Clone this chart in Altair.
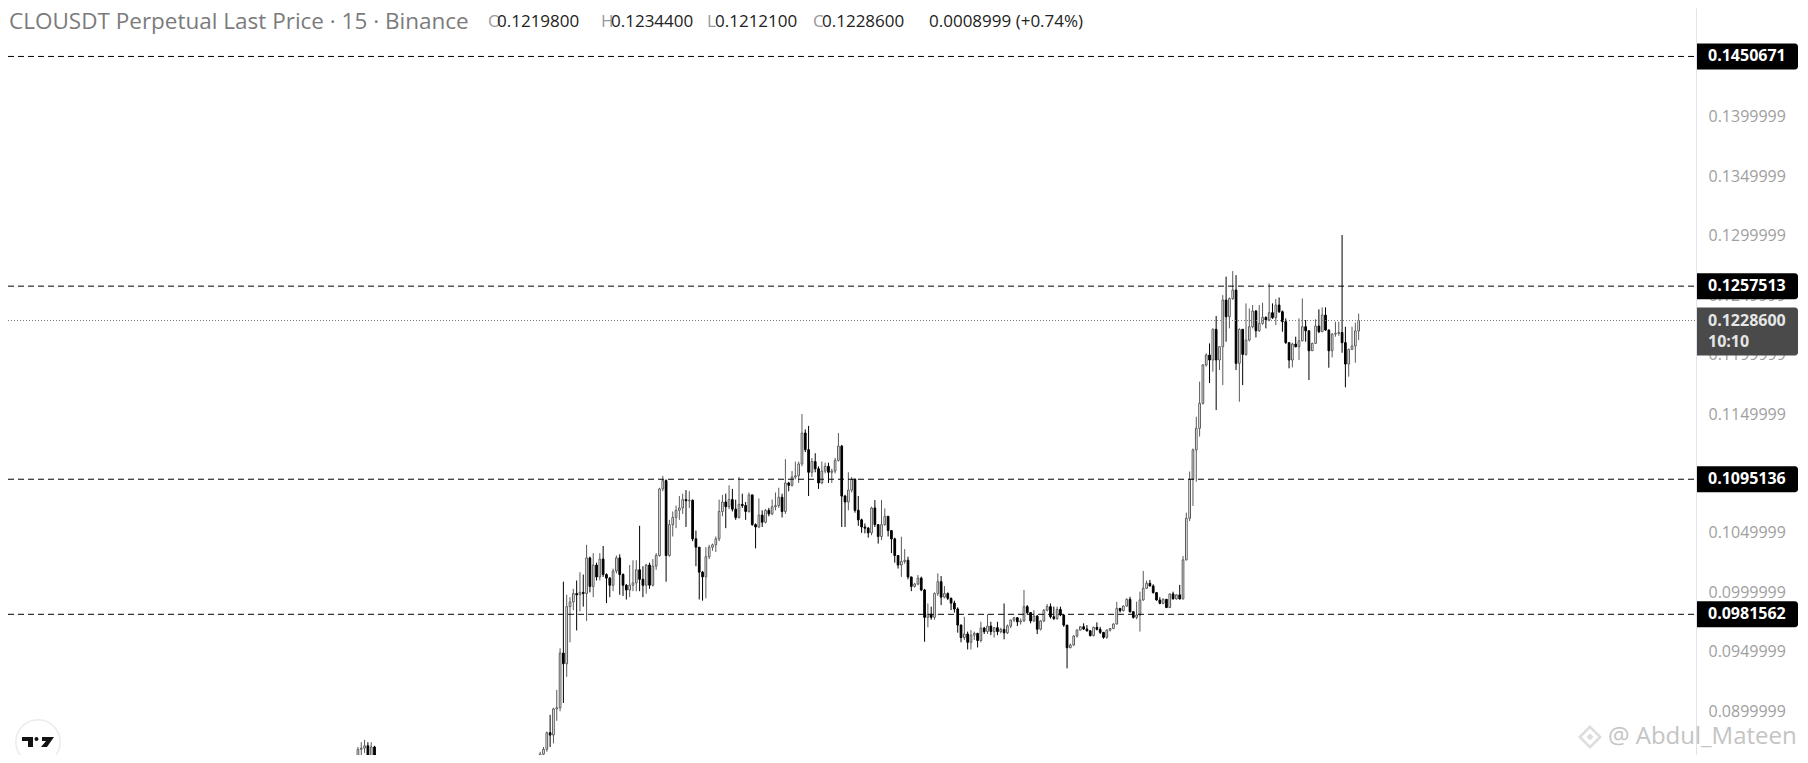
import altair as alt
import pandas as pd

# ---------------- data (prices in units of 0.0001 USDT) ----------------
# segment 1: first candles at the left edge (mostly below the visible range)
seg1_start = 0
seg1_open = 850
seg1_close = [868, 869, 871, 860, 870, 858, 856, 855, 852, 850, 853, 856]
seg1_high = [870, 874, 876, 874, 874, 871, 859, 860, 856, 855, 861, 859.5]
seg1_low = [845, 862, 865, 856, 857, 852, 850, 848, 846, 844, 846, 849]

# segment 2: from the rally out of the bottom to the last candle
seg2_start = 55
seg2_open = 850
seg2_close = [
    864, 868, 882, 880, 902, 903, 949, 940, 988, 992,
    999, 998, 1000, 999, 1029, 1005, 1023, 1013, 1028, 1015,
    1012, 1006, 1018, 1029, 1015, 1006, 1002, 1006, 1008, 1019,
    1011, 1006, 1023, 1006, 1022, 1031, 1087, 1094, 1031, 1057,
    1063, 1069, 1071, 1078, 1077, 1077.5, 1045, 1038, 1017, 1013,
    1030, 1038, 1040, 1045, 1068, 1076, 1072, 1078, 1070, 1063,
    1074, 1073, 1068, 1082, 1057, 1055, 1065, 1059, 1069, 1066,
    1072, 1073, 1080, 1068, 1092, 1090, 1097, 1098, 1108, 1134,
    1120, 1101, 1110, 1104, 1092, 1102, 1106, 1101, 1102, 1111,
    1123, 1081, 1076, 1086, 1095, 1069, 1061, 1055, 1054, 1050,
    1071, 1057, 1047, 1057, 1064, 1052, 1045, 1031, 1023, 1026,
    1027, 1013, 1005, 1007, 1012, 1002, 979, 981.5, 979, 999,
    1009, 996, 999, 995, 991, 986, 972.5, 962, 965, 958,
    964, 965.5, 959.5, 970, 967, 971.7, 967, 970.3, 967, 968.8,
    966, 971.7, 976.7, 978.7, 975.3, 976, 988, 983, 976, 980,
    969, 976, 985, 988, 979.5, 978, 985.7, 981, 972.5, 953.5,
    955.7, 963.3, 968.3, 971.1, 969.2, 967.7, 963.6, 970.6, 968.9, 966.4,
    962.2, 968.3, 969.7, 973.4, 986.5, 984.6, 988.5, 994.1, 983.7, 979,
    981, 993.6, 1003.4, 1007.7, 1005.4, 999.8, 993.6, 990.8, 994.2, 987.2,
    998.7, 994.5, 997.9, 994.5, 1027.3, 1062.3, 1095.1, 1119.8, 1138, 1159,
    1191.2, 1199.6, 1195.4, 1221.2, 1195.4, 1206.6, 1245.8, 1231.8, 1247, 1254.2,
    1192.6, 1221.2, 1200.1, 1212.2, 1223.4, 1236.6, 1220, 1226.2, 1231.3, 1229,
    1235.2, 1231, 1241.6, 1236, 1227.6, 1210, 1195.4, 1208.8, 1206.6, 1211.6,
    1223.4, 1220, 1203.2, 1209.4, 1224, 1219.2, 1233.2, 1220.6, 1203.2, 1217.2,
    1217.8, 1218.6, 1210, 1192, 1204.3, 1207.2, 1219.8, 1228.6,
]
seg2_high = [
    866, 870, 883, 897, 903, 918, 953, 1009, 998, 996,
    1003, 1010, 1017, 1015, 1040, 1030, 1033, 1025, 1033, 1039,
    1016, 1013, 1020, 1031, 1032, 1016, 1007, 1023, 1027, 1027,
    1056, 1022, 1024, 1025, 1028, 1033, 1088, 1098, 1095, 1061,
    1068, 1073, 1081, 1083, 1086, 1085, 1078, 1052, 1038, 1018,
    1038, 1040, 1041, 1047, 1078, 1082, 1083, 1090, 1087, 1078,
    1097, 1083, 1076, 1084, 1082, 1058, 1079, 1069, 1070, 1071,
    1078, 1084, 1088, 1083, 1112, 1093, 1102, 1110, 1110, 1150,
    1137, 1140, 1113, 1117, 1106, 1110, 1109, 1109, 1104, 1113,
    1134, 1124, 1082, 1101, 1097, 1096, 1081, 1062, 1058, 1055,
    1072, 1077.6, 1057, 1077.6, 1070.6, 1064, 1052, 1046, 1031, 1046.8,
    1036.4, 1030, 1013, 1008, 1014.6, 1013.2, 1003, 990.7, 988, 1000,
    1016, 1013.7, 1005.3, 1000, 995.7, 993, 987.4, 973, 979.5, 967,
    968.3, 967, 966, 975.3, 971, 981.5, 975.3, 971, 975.3, 970.3,
    990.7, 973, 977, 979, 979, 978, 1002, 989.3, 983, 985,
    981, 976.7, 986, 990.2, 990.7, 988, 988, 988, 981, 972.5,
    957, 964, 969, 971.7, 974, 972.5, 968, 971.2, 974.8, 971,
    966.4, 969, 970, 974, 992, 987, 989, 995, 996.3, 984,
    992.2, 1000.6, 1018, 1009.9, 1010.5, 1006.8, 1000, 996, 995, 994.2,
    999, 1000.6, 998.5, 1006.3, 1030.6, 1067, 1101.6, 1121, 1147.7, 1177.2,
    1192, 1201, 1209.4, 1222, 1232.4, 1207, 1250, 1265.5, 1248, 1270.2,
    1266.8, 1222, 1221.5, 1243, 1238.8, 1241.6, 1237.4, 1241.6, 1243.6, 1232,
    1259.8, 1243, 1246.7, 1248, 1237, 1230.4, 1210, 1210, 1215, 1230.4,
    1247.2, 1229, 1220, 1210, 1229.6, 1238, 1239.7, 1239.7, 1221, 1218,
    1227.6, 1227.6, 1300.5, 1223.4, 1205, 1223.4, 1226.8, 1234.4,
]
seg2_low = [
    845, 861, 866, 870, 873, 892, 900, 907, 929, 958,
    985, 968, 984, 988, 976, 1000, 996, 1010, 1010, 1013,
    991, 996, 1001, 1016, 998, 997, 994, 996, 1001, 1001,
    1001, 996, 999, 1003, 1005, 1019, 1030, 1085, 1009, 1030,
    1047, 1054, 1061, 1066, 1055, 1071, 1043, 1022, 994, 993,
    995, 1028, 1035, 1034, 1043, 1064, 1054, 1070, 1068, 1061,
    1062, 1071, 1061, 1067, 1056, 1037, 1054, 1055, 1058, 1064,
    1065, 1069, 1071, 1063, 1066, 1085, 1089, 1095, 1092, 1106,
    1118, 1081, 1097, 1101, 1087, 1091, 1100, 1092, 1092, 1100,
    1110, 1055, 1055, 1069, 1084, 1067, 1056, 1050, 1049.6, 1046,
    1048, 1055, 1041, 1044, 1056, 1047, 1033, 1025, 1020, 1013,
    1024, 1011, 1001, 1004, 1006, 1001, 958.5, 970.6, 977, 977,
    997, 989.3, 995, 993.5, 985.1, 983, 966.1, 958, 960, 952,
    952, 960, 953.7, 958, 965, 965, 964, 962, 964, 965.5,
    960.5, 965, 970, 975, 971.7, 973, 975, 981, 974, 975,
    965, 968, 975, 984, 978, 976.7, 977, 980, 971, 936.1,
    953, 955, 962, 968, 968.3, 967, 963, 963, 968, 965,
    961, 961, 967, 969, 973, 983, 984, 988, 983, 978,
    977.4, 967, 993, 1003, 1005, 999, 993, 990, 990, 987,
    987, 994, 994, 994, 994, 1027, 1060, 1072.7, 1093, 1131,
    1158, 1189.8, 1176, 1185.6, 1153.3, 1187, 1174.3, 1210.8, 1222, 1246,
    1187, 1160.3, 1174.3, 1199, 1211, 1222, 1214.4, 1219, 1225, 1222,
    1228, 1230, 1224.8, 1235, 1219.2, 1209, 1188.4, 1189.2, 1206, 1195.4,
    1211, 1210.8, 1178.6, 1203, 1209, 1218, 1219, 1220, 1188.9, 1197.6,
    1215, 1215.8, 1201.5, 1172.4, 1181.4, 1204, 1193.1, 1212.1,
]

levels = [0.1450671, 0.1257513, 0.1095136, 0.0981562]
last_price = 0.12286
countdown = "10:10"
change_text = "0.0008999 (+0.74%)"
title_text = "CLOUSDT Perpetual Last Price \u00b7 15 \u00b7 Binance"
tick_values = [0.0899999, 0.0949999, 0.0999999, 0.1049999, 0.1099999, 0.1149999,
               0.1199999, 0.1249999, 0.1299999, 0.1349999, 0.1399999, 0.1449999]
watermark = "@ Abdul_Mateen"


def build(start, first_open, closes, highs, lows):
    rows = []
    prev = first_open
    for k, (c, h, l) in enumerate(zip(closes, highs, lows)):
        o = prev
        rows.append(dict(idx=start + k, open=o / 1e4, close=c / 1e4,
                         high=h / 1e4, low=l / 1e4,
                         dir="up" if c >= o else "down"))
        prev = c
    return rows


candles = pd.DataFrame(build(seg1_start, seg1_open, seg1_close, seg1_high, seg1_low)
                       + build(seg2_start, seg2_open, seg2_close, seg2_high, seg2_low))
last = candles.iloc[-1]

# ---------------- layout ----------------
W, H = 1688, 747
FONT = "Open Sans"
xs = alt.Scale(domain=[-104.1, 402.3], nice=False, zero=False)
ys = alt.Scale(domain=[0.086325, 0.149141], nice=False, zero=False)
yaxis = alt.Axis(orient="right", values=tick_values, format=".7f", ticks=False,
                 grid=False, domainColor="#e0e3eb", labelColor="#a0a0a0",
                 labelFontSize=16, labelFont=FONT, labelPadding=12,
                 labelAlign="left", labelBaseline="middle", title=None,
                 labelOverlap=False, labelBound=False, labelFlush=False, zindex=0)

cmap_stroke = alt.Scale(domain=["up", "down"], range=["#5a5a5a", "#000000"])
cmap_fill = alt.Scale(domain=["up", "down"], range=["#ffffff", "#000000"])

base = alt.Chart(candles)
wicks = base.mark_rule(clip=True, strokeWidth=1).encode(
    x=alt.X("idx:Q", scale=xs, axis=None),
    y=alt.Y("low:Q", scale=ys, axis=yaxis),
    y2="high:Q",
    color=alt.Color("dir:N", scale=cmap_stroke, legend=None),
)
bodies = base.mark_bar(clip=True, size=1.7, strokeWidth=1).encode(
    x=alt.X("idx:Q", scale=xs, axis=None),
    y=alt.Y("open:Q", scale=ys, axis=yaxis),
    y2="close:Q",
    fill=alt.Fill("dir:N", scale=cmap_fill, legend=None),
    stroke=alt.Stroke("dir:N", scale=cmap_stroke, legend=None),
)

lv = pd.DataFrame({"v": levels, "lab": [f"{v:.7f}" for v in levels]})
level_lines = alt.Chart(lv).mark_rule(strokeDash=[6, 4], color="#000000", strokeWidth=1).encode(
    y=alt.Y("v:Q", scale=ys, axis=yaxis), x=alt.value(0), x2=alt.value(W))
level_boxes = alt.Chart(lv).mark_rect(yOffset=-13, y2Offset=13, cornerRadiusTopRight=3,
                                      cornerRadiusBottomRight=3, color="#000000").encode(
    y=alt.Y("v:Q", scale=ys, axis=yaxis), y2="v:Q", x=alt.value(W + 1), x2=alt.value(W + 102))
level_text = alt.Chart(lv).mark_text(align="left", baseline="middle", color="#ffffff",
                                     fontWeight="bold", fontSize=16, font=FONT).encode(
    y=alt.Y("v:Q", scale=ys, axis=yaxis), x=alt.value(W + 12), text="lab:N")

lp = pd.DataFrame({"v": [last_price], "lab": [f"{last_price:.7f}"], "cd": [countdown]})
last_line = alt.Chart(lp).mark_rule(strokeDash=[1, 2], color="#777777", strokeWidth=1).encode(
    y=alt.Y("v:Q", scale=ys, axis=yaxis), x=alt.value(0), x2=alt.value(W))
last_box = alt.Chart(lp).mark_rect(yOffset=-13, y2Offset=35, cornerRadiusTopRight=3,
                                   cornerRadiusBottomRight=3, color="#4a4a4a").encode(
    y=alt.Y("v:Q", scale=ys, axis=yaxis), y2="v:Q", x=alt.value(W + 1), x2=alt.value(W + 102))
last_text = alt.Chart(lp).mark_text(align="left", baseline="middle", color="#e6e6e6",
                                    fontSize=16, font=FONT, fontWeight="bold").encode(
    y=alt.Y("v:Q", scale=ys, axis=yaxis), x=alt.value(W + 12), text="lab:N")
last_cd = alt.Chart(lp).mark_text(align="left", baseline="middle", color="#e6e6e6",
                                  fontSize=16, font=FONT, fontWeight="bold", dy=21).encode(
    y=alt.Y("v:Q", scale=ys, axis=yaxis), x=alt.value(W + 12), text="cd:N")

one = pd.DataFrame({"a": [0]})


def label(txt, x, y, color, size=17, weight="normal", align="left"):
    return alt.Chart(one).mark_text(text=txt, x=x, y=y, color=color, fontSize=size,
                                    font=FONT, align=align, baseline="middle",
                                    fontWeight=weight)


hdr_y = 14
header = [
    label(title_text, 1, hdr_y, "#7b7b7b", size=22.5),
    label("O", 480, hdr_y, "#9a9a9a"), label(f"{last.open:.7f}", 489, hdr_y, "#222222"),
    label("H", 593, hdr_y, "#9a9a9a"), label(f"{last.high:.7f}", 603, hdr_y, "#222222"),
    label("L", 699, hdr_y, "#9a9a9a"), label(f"{last.low:.7f}", 707, hdr_y, "#222222"),
    label("C", 805, hdr_y, "#9a9a9a"), label(f"{last.close:.7f}", 814, hdr_y, "#222222"),
    label(change_text, 921, hdr_y, "#222222"),
]

wm_text = label(watermark, 1600, 729, "#c4c4c4", size=24)
wm_logo1 = alt.Chart(one).mark_point(shape="diamond", size=420, filled=False,
                                     stroke="#cfcfcf", strokeWidth=2.5).encode(
    x=alt.value(1582), y=alt.value(729))
wm_logo2 = alt.Chart(one).mark_point(shape="diamond", size=50, filled=True,
                                     color="#cfcfcf").encode(
    x=alt.value(1582), y=alt.value(729))

tv_circle = alt.Chart(one).mark_point(shape="circle", size=1963, filled=True, fill="#ffffff",
                                      stroke="#ebebeb", strokeWidth=1.5, opacity=1).encode(
    x=alt.value(30), y=alt.value(734))
tv_path = ("M-1,-0.3125 H-0.3125 V0.3125 H-0.625 V-0.0625 H-1 Z "
           "M-0.22,-0.19 A0.125,0.125 0 1,0 0.03,-0.19 A0.125,0.125 0 1,0 -0.22,-0.19 Z "
           "M0.25,-0.3125 H1 L0.56,0.3125 H0.19 L0.5,-0.0625 H0.25 Z")
tv_logo = alt.Chart(one).mark_point(shape=tv_path, size=1024, filled=True,
                                    color="#131313", opacity=1).encode(
    x=alt.value(30), y=alt.value(734))

chart = alt.layer(
    wicks, bodies, level_lines, last_line,
    level_boxes, level_text, last_box, last_text, last_cd,
    *header, wm_logo1, wm_logo2, wm_text, tv_circle, tv_logo,
).properties(
    width=W, height=H,
    padding={"left": 0, "top": 0, "right": 102, "bottom": 0},
    autosize=alt.AutoSizeParams(type="none"),
    background="#ffffff",
).configure_view(stroke=None)

chart.save("out.html", embed_options={"renderer": "svg", "actions": False})
